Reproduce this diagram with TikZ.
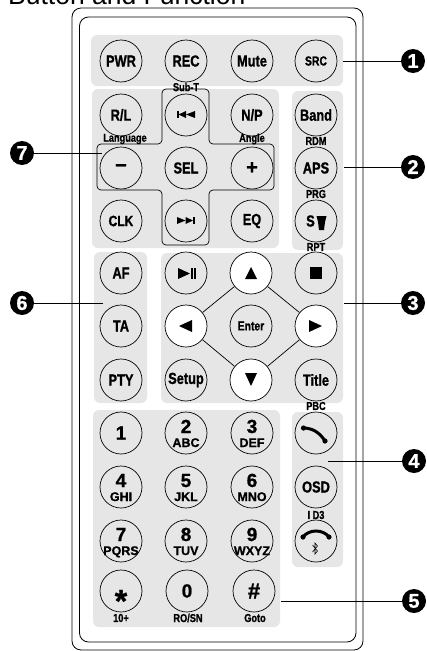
\documentclass[tikz,border=0pt]{standalone}
\usepackage{xcolor}
\usepackage{fontspec}
\usepackage{tikz}
\setmainfont{Liberation Sans}
\newfontfamily\keyfont[FakeStretch=0.8, BoldFeatures={FakeStretch=0.8, FakeBold=1}]{Liberation Sans}
\newfontfamily\numfont[BoldFeatures={FakeBold=1}]{Liberation Sans}
\definecolor{panelgray}{HTML}{E6E6E6}
\newcommand{\keynum}[2]{\numfont\makebox[0pt]{\raisebox{0pt}[0pt][0pt]{\fontsize{19}{19}\selectfont #1}}\makebox[0pt]{\raisebox{-14pt}[0pt][0pt]{\fontsize{12.5}{13}\selectfont #2}}}
\tikzset{
    panel/.style={fill=panelgray, rounded corners=6},
    key/.style={draw, circle, minimum size=42, inner sep=0, line width=0.7, font=\keyfont\bfseries\fontsize{16}{16}\selectfont},
    arrowkey/.style={key, fill=white},
    tag/.style={inner sep=0, font=\keyfont\bfseries\fontsize{11.5}{12}\selectfont},
    num/.style={circle, fill=black, text=white, minimum size=24, inner sep=0, font=\numfont\bfseries\fontsize{20}{20}\selectfont},
    lead/.style={line width=1},
    frame/.style={draw, line width=0.8, rounded corners=9}
}

\begin{document}
\begin{tikzpicture}[x=1pt, y=-1pt]
    \useasboundingbox (0, 0) rectangle (427, 651);

    \node[anchor=base west, inner sep=0, font=\fontsize{26.5}{27}\selectfont] at (8, 4) (title) {Button and Function};

    \draw[frame] (72, 8) rectangle (363, 650);
    \draw[frame] (79.5, 17) rectangle (356, 642);

    \fill[panel] (91, 35) rectangle (343, 86);
    \fill[panel] (92, 89) rectangle (279, 248);
    \fill[panel] (292, 91) rectangle (343, 250);
    \fill[panel] (94, 252) rectangle (147, 403);
    \fill[panel] (161, 253) rectangle (343, 403);
    \fill[panel] (93, 410) rectangle (280, 627);
    \fill[panel] (292, 412) rectangle (343, 567);

    \draw[line width=0.7, rounded corners=4] (162, 144) -- (162, 89) -- (209, 89) -- (209, 144) -- (274, 144) -- (274, 190) -- (209, 190) -- (209, 245) -- (162, 245) -- (162, 190) -- (97, 190) -- (97, 144) -- cycle;

    % top row
    \node[key] at (121, 61) (pwr) {PWR};
    \node[key] at (186, 61) (rec) {REC};
    \node[key] at (252, 61) (mute) {Mute};
    \node[key] at (316, 61) (src) {\fontsize{13}{13}\selectfont SRC};

    % cross block
    \node[key] at (121, 115) (rl) {R/L};
    \node[key] at (186, 115) (prev) {};
    \node[key] at (252, 115) (np) {N/P};
    \node[key] at (121, 168) (minus) {\numfont\fontsize{20}{20}\selectfont −};
    \node[key] at (186, 168) (sel) {SEL};
    \node[key] at (252, 168) (plus) {\numfont\fontsize{20}{20}\selectfont +};
    \node[key] at (121, 221) (clk) {\fontsize{15}{15}\selectfont CLK};
    \node[key] at (186, 221) (next) {};
    \node[key] at (252, 221) (eq) {EQ};

    \fill (177, 111) rectangle (178.5, 118);
    \fill (178.5, 114.5) -- (186, 111) -- (186, 118) -- cycle;
    \fill (186, 114.5) -- (195, 111) -- (195, 118) -- cycle;
    \fill (177, 217) -- (185.5, 220.5) -- (177, 224) -- cycle;
    \fill (185.5, 217) -- (193, 220.5) -- (185.5, 224) -- cycle;
    \fill (193, 217) rectangle (194.5, 224);

    % right column
    \node[key] at (316, 115) (band) {Band};
    \node[key] at (316, 168) (aps) {APS};
    \node[key] at (316, 221) (st) {S\hspace{11pt}\null};
    \fill (316.5, 216) -- (326.5, 216) -- (325, 222) -- (324, 230) -- (319, 230) -- (318, 222) -- cycle;

    % left strip
    \node[key] at (121, 273) (af) {AF};
    \node[key] at (121, 326) (ta) {TA};
    \node[key] at (121, 380) (pty) {PTY};

    % navigation
    \node[key] at (186, 273) (play) {};
    \node[arrowkey] at (251, 273) (up) {};
    \node[key] at (316, 273) (stop) {};
    \node[arrowkey] at (186, 326) (left) {};
    \node[key] at (251, 326) (enter) {\fontsize{13}{14}\selectfont Enter};
    \node[arrowkey] at (316, 326) (right) {};
    \node[key] at (186, 380) (setup) {Setup};
    \node[arrowkey] at (251, 380) (down) {};
    \node[key] at (316, 380) (titlekey) {Title};

    \draw[line width=0.7] (up) -- (left);
    \draw[line width=0.7] (up) -- (right);
    \draw[line width=0.7] (down) -- (left);
    \draw[line width=0.7] (down) -- (right);

    \fill (245, 279) -- (251, 267) -- (257, 279) -- cycle;
    \fill (179, 326) -- (192, 320) -- (192, 332) -- cycle;
    \fill (322, 326) -- (309, 320) -- (309, 332) -- cycle;
    \fill (245, 373) -- (257, 373) -- (251, 386) -- cycle;
    \fill (310, 267) rectangle (322, 279);
    \fill (178, 268) -- (190, 273.5) -- (178, 279) -- cycle;
    \fill (191, 268) rectangle (193, 279);
    \fill (194, 268) rectangle (196, 279);

    % keypad
    \node[key] at (121, 433) (k1) {\numfont\fontsize{19}{19}\selectfont 1};
    \node[key] at (186, 433) (k2) {\keynum{2}{ABC}};
    \node[key] at (252, 433) (k3) {\keynum{3}{DEF}};
    \node[key] at (121, 487) (k4) {\keynum{4}{GHI}};
    \node[key] at (186, 487) (k5) {\keynum{5}{JKL}};
    \node[key] at (252, 487) (k6) {\keynum{6}{MNO}};
    \node[key] at (121, 541) (k7) {\keynum{7}{PQRS}};
    \node[key] at (186, 541) (k8) {\keynum{8}{TUV}};
    \node[key] at (252, 541) (k9) {\keynum{9}{WXYZ}};
    \node[key] at (121, 591) (star) {\numfont\fontsize{32}{32}\selectfont\makebox[0pt]{\raisebox{-21pt}[0pt][0pt]{*}}};
    \node[key] at (187, 591) (k0) {\numfont\fontsize{19}{19}\selectfont 0};
    \node[key] at (254, 591) (hash) {\numfont\fontsize{22}{22}\selectfont \#};

    % phone column
    \node[key] at (316, 433) (pickup) {};
    \node[key] at (316, 487) (osd) {OSD};
    \node[key] at (316, 541) (hangup) {};
    \draw[line width=3, line cap=round] (303, 428) .. controls (313, 428) and (320, 433) .. (325, 441);
    \fill (303.5, 428) circle (2.6);
    \fill (325, 441) circle (2.6);
    \draw[line width=3, line cap=round] (303, 537) .. controls (309, 529) and (323, 529) .. (329, 537);
    \fill (303, 537) circle (2.6);
    \fill (329, 537) circle (2.6);
    \draw[line width=0.6] (312.5, 545) -- (317.5, 551) -- (315, 554) -- (315, 543) -- (317.5, 546) -- (312.5, 552);

    % small labels
    \node[tag] at (186, 87) (subt) {Sub-T};
    \node[tag] at (125, 139) (language) {Language};
    \node[tag] at (252, 139) (angle) {Angle};
    \node[tag] at (316, 141) (rdm) {RDM};
    \node[tag] at (316, 194) (prg) {PRG};
    \node[tag] at (316, 247) (rpt) {RPT};
    \node[tag] at (316, 406) (pbc) {PBC};
    \node[tag] at (316, 515) (id3) {I D3};
    \node[tag] at (121, 618) (ten) {10+};
    \node[tag] at (188, 618) (rosn) {RO/SN};
    \node[tag] at (255, 618) (goto) {Goto};

    % numbered markers
    \node[num] at (413, 61) (n1) {1};
    \node[num] at (413, 167) (n2) {2};
    \node[num] at (413, 303) (n3) {3};
    \node[num] at (414, 461) (n4) {4};
    \node[num] at (414, 601) (n5) {5};
    \node[num] at (22, 303) (n6) {6};
    \node[num] at (22, 153) (n7) {7};

    \coordinate (e1) at (343, 61);
    \coordinate (e2) at (344, 167);
    \coordinate (e3) at (344, 303);
    \coordinate (e4) at (328, 461);
    \coordinate (e5) at (281, 601);
    \coordinate (e6) at (103, 303);
    \coordinate (e7) at (102, 153);

    \draw[lead] (n1) -- (e1);
    \draw[lead] (n2) -- (e2);
    \draw[lead] (n3) -- (e3);
    \draw[lead] (n4) -- (e4);
    \draw[lead] (n5) -- (e5);
    \draw[lead] (n6) -- (e6);
    \draw[lead] (n7) -- (e7);
\end{tikzpicture}
\end{document}
